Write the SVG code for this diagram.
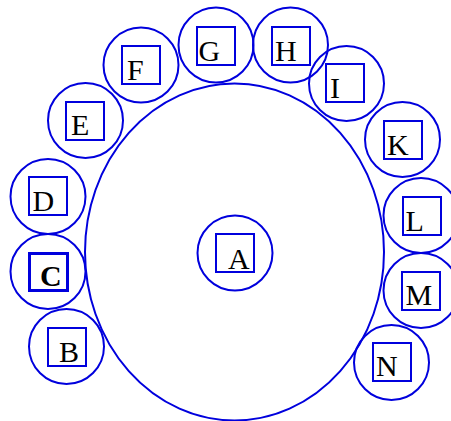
<svg xmlns="http://www.w3.org/2000/svg" width="451" height="421" viewBox="0 0 451 421">
<style>
.c{fill:none;stroke:#0000dd;stroke-width:2}
.r{fill:none;stroke:#0000dd;stroke-width:2}
.rb{fill:none;stroke:#0000dd;stroke-width:3}
.t{font-family:"Liberation Serif","Times New Roman",serif;font-size:30px;fill:#000}
.tb{font-weight:bold}
</style>
<rect width="451" height="421" fill="#fff"/>
<g id="container">
<ellipse class="c" cx="234.5" cy="252" rx="149.5" ry="168.5"/>
</g>
<g id="connectors"></g>
<g id="A"><circle class="c" cx="235" cy="253" r="37.5"/><rect class="r" x="216" y="234" width="38" height="38"/><text class="t" x="228" y="268.5">A</text></g>
<g id="B"><circle class="c" cx="66.5" cy="346.5" r="37.5"/><rect class="r" x="48" y="328" width="38" height="38"/><text class="t" x="59" y="361.5">B</text></g>
<g id="C"><circle class="c" cx="48" cy="271.5" r="37.5"/><rect class="rb" x="29.5" y="253.5" width="38" height="37"/><text class="t tb" x="40" y="286">C</text></g>
<g id="D"><circle class="c" cx="48" cy="196.5" r="37.5"/><rect class="r" x="29" y="177" width="38" height="38"/><text class="t" x="32.5" y="210.5">D</text></g>
<g id="E"><circle class="c" cx="85.5" cy="120.5" r="37.5"/><rect class="r" x="66" y="102" width="38" height="38"/><text class="t" x="71" y="135">E</text></g>
<g id="F"><circle class="c" cx="141" cy="65" r="37.5"/><rect class="r" x="122" y="46" width="38" height="38"/><text class="t" x="127" y="79.5">F</text></g>
<g id="G"><circle class="c" cx="216" cy="45" r="37.5"/><rect class="r" x="197" y="27" width="38" height="38"/><text class="t" x="198.5" y="60.5">G</text></g>
<g id="H"><circle class="c" cx="290.5" cy="45" r="37.5"/><rect class="r" x="272" y="27" width="38" height="38"/><text class="t" x="275" y="60.5">H</text></g>
<g id="I"><circle class="c" cx="346.5" cy="83.5" r="37.5"/><rect class="r" x="326" y="64" width="38" height="38"/><text class="t" x="330" y="97.5">I</text></g>
<g id="K"><circle class="c" cx="402.5" cy="139.5" r="37.5"/><rect class="r" x="384" y="121" width="38" height="38"/><text class="t" x="387" y="154.5">K</text></g>
<g id="L"><circle class="c" cx="421" cy="215.5" r="37.5"/><rect class="r" x="403" y="197" width="38" height="38"/><text class="t" x="405.5" y="230.5">L</text></g>
<g id="M"><circle class="c" cx="421" cy="290.5" r="37.5"/><rect class="r" x="402" y="272" width="38" height="38"/><text class="t" x="405.5" y="304.5">M</text></g>
<g id="N"><circle class="c" cx="391.5" cy="362.5" r="37.5"/><rect class="r" x="373" y="343" width="38" height="38"/><text class="t" x="376" y="376">N</text></g>
</svg>
